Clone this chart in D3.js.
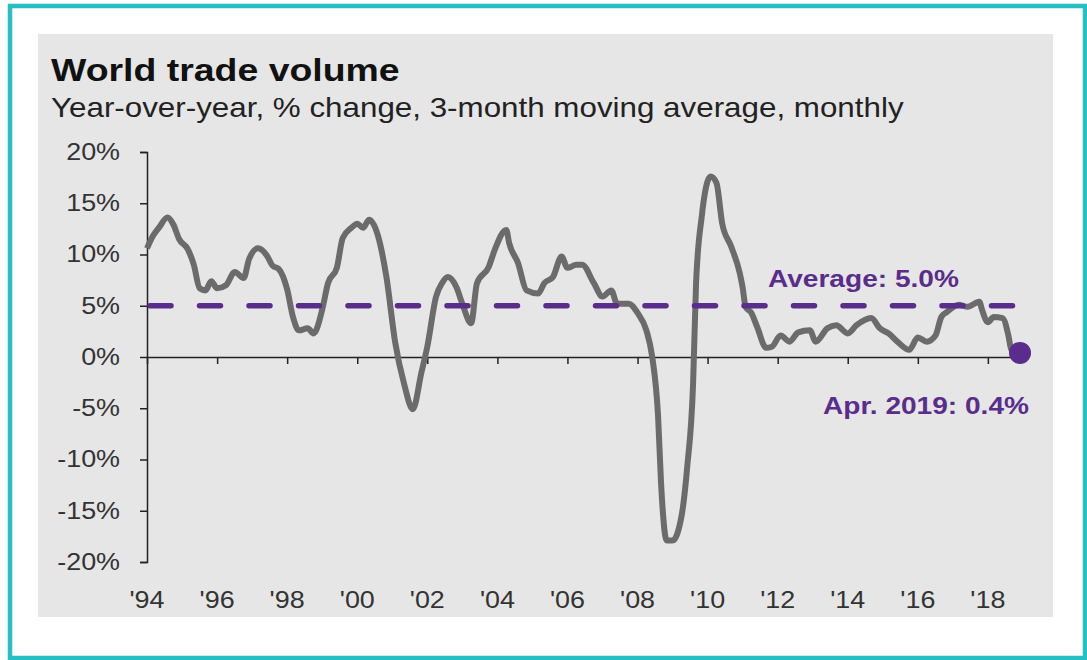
<!DOCTYPE html>
<html>
<head>
<meta charset="utf-8">
<script src="https://cdn.jsdelivr.net/npm/d3@7"></script>
<style>
  body { margin: 0; background: #fff; }
  text { font-family: "Liberation Sans", Arial, sans-serif; }
</style>
</head>
<body>
<div class="chart"></div>
<script>
// world trade volume, y/y % change, 3mma
var months = [
  "1994-05","1994-07","1994-09","1994-12","1995-02","1995-04","1995-07","1995-09","1995-11","1996-01",
  "1996-03","1996-05","1996-08","1996-11","1997-02","1997-04","1997-07","1997-10","1997-12","1998-02",
  "1998-05","1998-07","1998-09","1998-12","1999-02","1999-05","1999-07","1999-10","1999-12","2000-03",
  "2000-05","2000-07","2000-09","2000-12","2001-03","2001-06","2001-09","2001-12","2002-03","2002-05",
  "2002-08","2002-10","2002-12","2003-03","2003-05","2003-08","2003-10","2004-02","2004-04","2004-08",
  "2004-09","2004-12","2005-03","2005-07","2005-09","2005-12","2006-03","2006-05","2006-08","2006-10",
  "2007-02","2007-05","2007-08","2007-10","2008-02","2008-05","2008-08","2008-10","2008-12","2009-01",
  "2009-03","2009-05","2009-08","2009-10","2009-12","2010-01","2010-03","2010-06","2010-08","2010-10",
  "2011-01","2011-04","2011-05","2011-06","2011-08","2011-10","2012-01","2012-03","2012-06","2012-09",
  "2012-12","2013-04","2013-06","2013-10","2014-01","2014-05","2014-08","2015-01","2015-04","2015-07",
  "2015-10","2016-02","2016-05","2016-08","2016-11","2017-01","2017-03","2017-07","2017-10","2018-02",
  "2018-03","2018-05","2018-07","2018-10","2018-12","2019-01","2019-04"
];
var tradeGrowth = [
  10.6, 11.8, 12.6, 13.6, 12.9, 11.5, 10.5, 9.0, 6.7, 6.5,
  7.4, 6.7, 7.0, 8.3, 7.7, 9.6, 10.6, 9.9, 8.9, 8.6,
  6.6, 3.9, 2.6, 2.8, 2.3, 4.6, 7.2, 8.7, 11.6, 12.6,
  13.0, 12.6, 13.4, 11.9, 7.8, 1.4, -2.6, -5.1, -1.5, 1.0,
  5.9, 7.2, 7.8, 6.8, 5.2, 3.3, 7.2, 8.8, 10.4, 12.4,
  11.1, 9.2, 6.5, 6.2, 7.2, 7.8, 9.8, 8.7, 9.0, 9.0,
  7.2, 5.9, 6.5, 5.2, 5.2, 4.3, 2.6, 0.0, -5.8, -12.3,
  -17.9, -17.9, -15.6, -10.7, -2.6, 7.2, 13.7, 17.6, 17.0, 13.0,
  10.8, 8.2, 6.8, 4.9, 4.3, 2.9, 0.9, 1.0, 2.1, 1.5,
  2.4, 2.6, 1.5, 2.8, 3.1, 2.3, 3.1, 3.8, 2.8, 2.3,
  1.5, 0.7, 1.9, 1.5, 2.1, 3.9, 4.4, 5.1, 4.9, 5.4,
  4.6, 3.4, 3.9, 3.8, 2.1, 0.7, 0.4
];
var tickYears = [1994, 1996, 1998, 2000, 2002, 2004, 2006, 2008, 2010, 2012, 2014, 2016, 2018];
var yTicks = [-20, -15, -10, -5, 0, 5, 10, 15, 20];
var average = 5.0;
var averageLabel = "Average: 5.0%";
var lastLabel = "Apr. 2019: 0.4%";

var svgWidth = 1087;
var svgHeight = 660;
var margin = { top: 152, right: 67, bottom: 98, left: 147 };
var width = svgWidth - margin.left - margin.right;
var height = svgHeight - margin.top - margin.bottom;

// the text in the picture is a bit wide, stretch it sideways
var sx = 1.17;
var purple = "#5a2d8c";

var parseMonth = d3.timeParse("%Y-%m");
var data = months.map(function(m, i) {
  return { date: parseMonth(m), value: tradeGrowth[i] };
});

var svg = d3.select(".chart")
  .append("svg")
  .attr("width", svgWidth)
  .attr("height", svgHeight);

svg.append("rect")
  .attr("x", 10).attr("y", 6)
  .attr("width", 1075).attr("height", 652)
  .attr("fill", "#fff")
  .attr("stroke", "#25bfc4")
  .attr("stroke-width", 4.5);

svg.append("rect")
  .attr("x", 38).attr("y", 34)
  .attr("width", 1015).attr("height", 583)
  .attr("fill", "#e6e6e6");

svg.append("text")
  .attr("transform", `translate(51, 81) scale(${sx},1)`)
  .attr("font-size", 32)
  .attr("font-weight", "bold")
  .attr("fill", "#111")
  .text("World trade volume");

svg.append("text")
  .attr("transform", `translate(51, 117) scale(${sx},1)`)
  .attr("font-size", 26.8)
  .attr("fill", "#222")
  .text("Year-over-year, % change, 3-month moving average, monthly");

var chartGroup = svg.append("g")
  .attr("transform", `translate(${margin.left}, ${margin.top})`);

var xScale = d3.scaleTime()
  .domain(d3.extent(data, d => d.date))
  .range([0, width]);

var yScale = d3.scaleLinear()
  .domain([-20, 20])
  .range([height, 0]);

// ticks sit every 24 months from the first point
var tickDates = tickYears.map(y => new Date(y, 4, 1));

var leftAxis = d3.axisLeft(yScale)
  .tickValues(yTicks)
  .tickSize(7)
  .tickFormat(d => d + "%");

var yAxis = chartGroup.append("g").call(leftAxis);
yAxis.select(".domain").attr("stroke", "#222").attr("stroke-width", 1.5);
yAxis.selectAll(".tick line").attr("stroke", "#222").attr("stroke-width", 1.5);
yAxis.selectAll(".tick text")
  .attr("x", -27 / sx)
  .attr("transform", `scale(${sx},1)`)
  .attr("font-size", 23)
  .attr("font-family", "Liberation Sans, Arial, sans-serif")
  .attr("fill", "#333");

var zeroAxis = d3.axisBottom(xScale)
  .tickValues(tickDates)
  .tickSize(7)
  .tickSizeOuter(0)
  .tickFormat("");

var xAxis = chartGroup.append("g")
  .attr("transform", `translate(0, ${yScale(0)})`)
  .call(zeroAxis);
xAxis.select(".domain").attr("stroke", "#222").attr("stroke-width", 1.5);
xAxis.selectAll(".tick line").attr("stroke", "#222").attr("stroke-width", 1.5);

var fmtYear = d3.timeFormat("'%y");
chartGroup.selectAll(".xlabel")
  .data(tickDates)
  .enter()
  .append("text")
  .attr("class", "xlabel")
  .attr("transform", d => `translate(${xScale(d)}, ${height + 46}) scale(${sx},1)`)
  .attr("text-anchor", "middle")
  .attr("font-size", 23)
  .attr("fill", "#333")
  .text(fmtYear);

var line = d3.line()
  .x(d => xScale(d.date))
  .y(d => yScale(d.value))
  .curve(d3.curveMonotoneX);

chartGroup.append("path")
  .datum(data)
  .attr("d", line)
  .attr("fill", "none")
  .attr("stroke", "#6b6b6b")
  .attr("stroke-width", 6)
  .attr("stroke-linejoin", "round");

var avgLine = d3.line()
  .x(d => xScale(d))
  .y(() => yScale(average));

chartGroup.append("path")
  .datum(xScale.domain())
  .attr("d", avgLine)
  .attr("fill", "none")
  .attr("stroke", purple)
  .attr("stroke-width", 5.5)
  .attr("stroke-dasharray", "21,28.5")
  .attr("stroke-dashoffset", -3)
  .attr("stroke-linecap", "round");

var last = data[data.length - 1];
chartGroup.append("circle")
  .attr("cx", xScale(last.date))
  .attr("cy", yScale(last.value))
  .attr("r", 11)
  .attr("fill", purple);

chartGroup.append("text")
  .attr("transform", `translate(621, ${yScale(average) - 19}) scale(${sx},1)`)
  .attr("font-size", 24)
  .attr("font-weight", "bold")
  .attr("fill", purple)
  .text(averageLabel);

chartGroup.append("text")
  .attr("transform", `translate(676, ${yScale(0) + 57}) scale(${sx},1)`)
  .attr("font-size", 24)
  .attr("font-weight", "bold")
  .attr("fill", purple)
  .text(lastLabel);
</script>
</body>
</html>
